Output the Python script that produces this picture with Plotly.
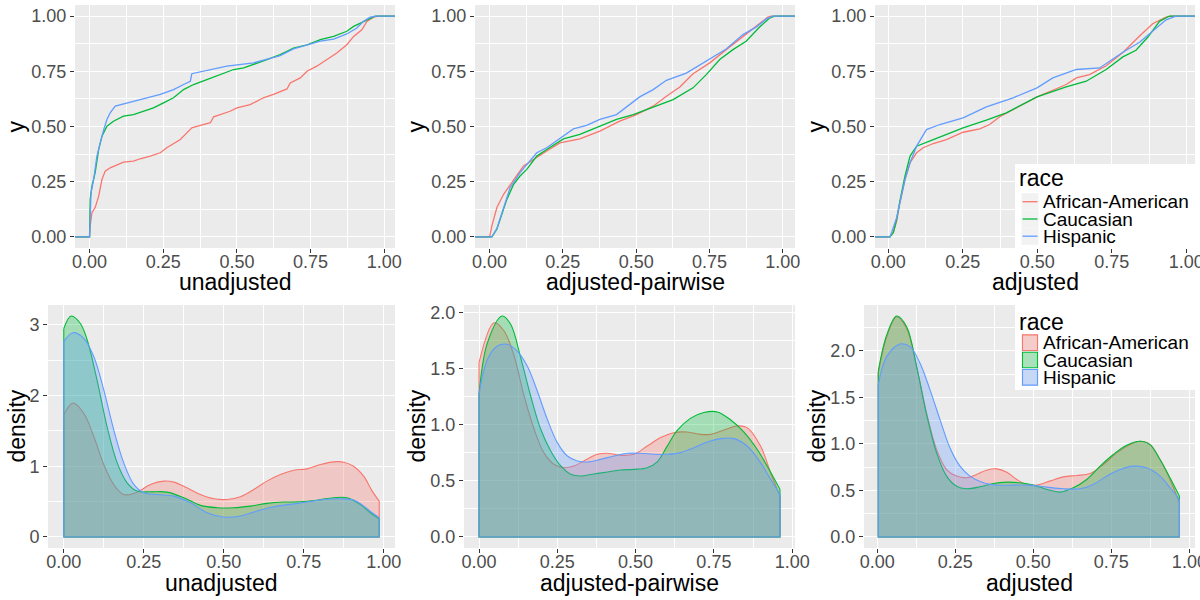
import plotly.graph_objects as go

FONT = "Liberation Sans, Arial, Helvetica, sans-serif"
W, H = 1200, 600

races = ["African-American", "Caucasian", "Hispanic"]
colors = ["#F8766D", "#00BA38", "#619CFF"]
fills = ["rgba(248,118,109,0.3)", "rgba(0,186,56,0.3)", "rgba(97,156,255,0.3)"]

# ---------------- ECDF data (top row) ----------------
# unadjusted
ecdf_unadj_aa_x = [0, 0.002, 0.008, 0.019, 0.031, 0.042, 0.053, 0.07, 0.093, 0.115, 0.149, 0.172, 0.206, 0.24, 0.262, 0.285, 0.308, 0.33, 0.347, 0.376, 0.41, 0.421, 0.443, 0.477, 0.5, 0.545, 0.59, 0.624, 0.67, 0.681, 0.715, 0.738, 0.771, 0.805, 0.839, 0.873, 0.896, 0.924, 0.941, 0.964, 0.981]
ecdf_unadj_aa_y = [0, 0.05, 0.11, 0.133, 0.185, 0.26, 0.298, 0.313, 0.328, 0.339, 0.343, 0.354, 0.366, 0.381, 0.404, 0.423, 0.441, 0.471, 0.494, 0.505, 0.517, 0.544, 0.554, 0.569, 0.584, 0.599, 0.63, 0.645, 0.67, 0.697, 0.72, 0.75, 0.773, 0.803, 0.833, 0.87, 0.908, 0.938, 0.976, 0.995, 1.0]
ecdf_unadj_ca_x = [0, 0.002, 0.008, 0.019, 0.025, 0.031, 0.042, 0.059, 0.081, 0.115, 0.149, 0.183, 0.217, 0.251, 0.285, 0.319, 0.353, 0.398, 0.443, 0.489, 0.523, 0.557, 0.602, 0.647, 0.692, 0.738, 0.783, 0.828, 0.873, 0.896, 0.93, 0.952, 0.969]
ecdf_unadj_ca_y = [0, 0.17, 0.23, 0.291, 0.351, 0.396, 0.456, 0.501, 0.524, 0.547, 0.554, 0.569, 0.584, 0.607, 0.63, 0.667, 0.69, 0.712, 0.735, 0.758, 0.765, 0.78, 0.803, 0.825, 0.855, 0.87, 0.893, 0.908, 0.931, 0.953, 0.976, 0.991, 1.0]
ecdf_unadj_hi_x = [0, 0.005, 0.014, 0.025, 0.036, 0.048, 0.059, 0.07, 0.087, 0.127, 0.195, 0.24, 0.285, 0.319, 0.342, 0.347, 0.398, 0.466, 0.557, 0.602, 0.647, 0.692, 0.738, 0.783, 0.828, 0.873, 0.907, 0.93, 0.952, 0.975]
ecdf_unadj_hi_y = [0, 0.2, 0.261, 0.366, 0.426, 0.486, 0.532, 0.562, 0.592, 0.607, 0.63, 0.645, 0.667, 0.69, 0.705, 0.739, 0.755, 0.773, 0.788, 0.803, 0.821, 0.851, 0.87, 0.886, 0.896, 0.919, 0.946, 0.976, 0.995, 1.0]

# adjusted-pairwise
ecdf_pair_aa_x = [0, 0.008, 0.025, 0.048, 0.07, 0.093, 0.116, 0.15, 0.195, 0.24, 0.308, 0.376, 0.444, 0.501, 0.558, 0.603, 0.649, 0.694, 0.751, 0.807, 0.864, 0.921, 0.949, 0.96]
ecdf_pair_aa_y = [0, 0.05, 0.133, 0.193, 0.238, 0.279, 0.321, 0.351, 0.389, 0.426, 0.444, 0.479, 0.524, 0.554, 0.592, 0.637, 0.679, 0.739, 0.788, 0.848, 0.908, 0.968, 0.995, 1.0]
ecdf_pair_ca_x = [0, 0.008, 0.025, 0.036, 0.059, 0.082, 0.104, 0.127, 0.161, 0.195, 0.252, 0.308, 0.376, 0.433, 0.49, 0.558, 0.626, 0.694, 0.739, 0.785, 0.83, 0.875, 0.921, 0.955, 0.972]
ecdf_pair_ca_y = [0, 0, 0.035, 0.08, 0.17, 0.238, 0.276, 0.306, 0.366, 0.396, 0.444, 0.464, 0.502, 0.532, 0.554, 0.589, 0.622, 0.675, 0.735, 0.803, 0.848, 0.886, 0.95, 0.991, 1.0]
ecdf_pair_hi_x = [0, 0.008, 0.025, 0.048, 0.07, 0.104, 0.133, 0.161, 0.195, 0.252, 0.286, 0.331, 0.376, 0.433, 0.467, 0.512, 0.558, 0.603, 0.671, 0.717, 0.762, 0.807, 0.864, 0.909, 0.943, 0.966]
ecdf_pair_hi_y = [0, 0, 0.038, 0.133, 0.223, 0.291, 0.336, 0.381, 0.404, 0.456, 0.489, 0.505, 0.532, 0.554, 0.589, 0.634, 0.667, 0.709, 0.742, 0.78, 0.815, 0.851, 0.916, 0.95, 0.986, 1.0]

# adjusted
ecdf_adj_aa_x = [0, 0.003, 0.017, 0.028, 0.039, 0.056, 0.073, 0.095, 0.117, 0.151, 0.195, 0.251, 0.307, 0.34, 0.374, 0.43, 0.499, 0.552, 0.597, 0.631, 0.675, 0.731, 0.787, 0.843, 0.887, 0.932, 0.949]
ecdf_adj_aa_y = [0, 0, 0.02, 0.072, 0.155, 0.26, 0.336, 0.381, 0.404, 0.423, 0.441, 0.474, 0.489, 0.509, 0.544, 0.584, 0.634, 0.664, 0.69, 0.72, 0.735, 0.775, 0.835, 0.91, 0.965, 0.995, 1.0]
ecdf_adj_ca_x = [0, 0.006, 0.017, 0.028, 0.039, 0.056, 0.073, 0.095, 0.151, 0.206, 0.251, 0.329, 0.396, 0.499, 0.597, 0.664, 0.731, 0.787, 0.831, 0.871, 0.91, 0.943]
ecdf_adj_ca_y = [0, 0, 0.02, 0.08, 0.163, 0.276, 0.366, 0.411, 0.441, 0.471, 0.494, 0.529, 0.562, 0.634, 0.679, 0.705, 0.758, 0.815, 0.845, 0.905, 0.976, 1.0]
ecdf_adj_hi_x = [0, 0.006, 0.028, 0.039, 0.056, 0.073, 0.095, 0.128, 0.173, 0.251, 0.329, 0.419, 0.499, 0.552, 0.631, 0.709, 0.742, 0.787, 0.843, 0.887, 0.932, 0.965]
ecdf_adj_hi_y = [0, 0, 0.087, 0.155, 0.26, 0.336, 0.411, 0.486, 0.509, 0.539, 0.589, 0.63, 0.675, 0.72, 0.758, 0.765, 0.795, 0.836, 0.881, 0.931, 0.983, 1.0]

# ---------------- Density data (bottom row) ----------------
dens_unadj_aa_x = [0, 0.029, 0.0625, 0.094, 0.125, 0.156, 0.1875, 0.219, 0.24, 0.271, 0.3125, 0.344, 0.385, 0.427, 0.469, 0.51, 0.552, 0.594, 0.635, 0.677, 0.719, 0.76, 0.802, 0.844, 0.875, 0.906, 0.9375, 0.964, 0.986]
dens_unadj_aa_y = [1.73, 1.895, 1.75, 1.42, 1.025, 0.743, 0.60, 0.616, 0.66, 0.743, 0.79, 0.776, 0.696, 0.60, 0.54, 0.531, 0.569, 0.672, 0.79, 0.884, 0.945, 0.964, 1.025, 1.063, 1.058, 1.0, 0.86, 0.649, 0.508]
dens_unadj_ca_x = [0, 0.023, 0.052, 0.073, 0.104, 0.135, 0.167, 0.198, 0.229, 0.271, 0.323, 0.375, 0.427, 0.479, 0.531, 0.583, 0.635, 0.6875, 0.74, 0.79, 0.844, 0.885, 0.927, 0.958, 0.986]
dens_unadj_ca_y = [2.95, 3.126, 3.02, 2.79, 2.22, 1.566, 1.048, 0.766, 0.649, 0.639, 0.635, 0.555, 0.447, 0.414, 0.414, 0.437, 0.475, 0.494, 0.498, 0.52, 0.555, 0.555, 0.46, 0.343, 0.259]
dens_unadj_hi_x = [0, 0.029, 0.0625, 0.094, 0.125, 0.156, 0.1875, 0.219, 0.25, 0.292, 0.344, 0.396, 0.448, 0.5, 0.552, 0.604, 0.656, 0.708, 0.76, 0.8125, 0.865, 0.906, 0.9375, 0.964, 0.986]
dens_unadj_hi_y = [2.765, 2.89, 2.81, 2.55, 2.08, 1.52, 1.048, 0.743, 0.625, 0.60, 0.578, 0.484, 0.343, 0.282, 0.296, 0.367, 0.428, 0.461, 0.494, 0.531, 0.54, 0.522, 0.437, 0.343, 0.273]

dens_pair_aa_x = [0, 0.048, 0.08, 0.112, 0.144, 0.176, 0.207, 0.239, 0.271, 0.303, 0.335, 0.378, 0.41, 0.452, 0.495, 0.537, 0.58, 0.622, 0.665, 0.707, 0.739, 0.782, 0.824, 0.856, 0.899, 0.931, 0.961]
dens_pair_aa_y = [1.554, 1.91, 1.837, 1.614, 1.257, 0.96, 0.752, 0.648, 0.618, 0.633, 0.678, 0.737, 0.746, 0.728, 0.737, 0.811, 0.886, 0.93, 0.936, 0.915, 0.915, 0.954, 0.99, 0.975, 0.811, 0.574, 0.366]
dens_pair_ca_x = [0, 0.027, 0.074, 0.101, 0.133, 0.165, 0.197, 0.229, 0.261, 0.293, 0.324, 0.367, 0.41, 0.452, 0.495, 0.537, 0.569, 0.601, 0.633, 0.676, 0.718, 0.761, 0.803, 0.846, 0.888, 0.92, 0.961]
dens_pair_ca_y = [1.272, 1.733, 1.97, 1.896, 1.599, 1.257, 0.96, 0.767, 0.633, 0.559, 0.544, 0.562, 0.58, 0.597, 0.603, 0.618, 0.67, 0.81, 0.95, 1.06, 1.11, 1.115, 1.045, 0.935, 0.782, 0.633, 0.425]
dens_pair_hi_x = [0, 0.027, 0.0585, 0.09, 0.122, 0.154, 0.186, 0.218, 0.25, 0.282, 0.314, 0.346, 0.388, 0.431, 0.473, 0.516, 0.559, 0.601, 0.644, 0.686, 0.729, 0.771, 0.814, 0.856, 0.899, 0.931, 0.961]
dens_pair_hi_y = [1.272, 1.584, 1.703, 1.718, 1.658, 1.524, 1.302, 1.049, 0.841, 0.722, 0.678, 0.669, 0.692, 0.722, 0.746, 0.746, 0.737, 0.737, 0.752, 0.796, 0.847, 0.877, 0.877, 0.811, 0.663, 0.514, 0.38]

dens_adj_aa_x = [0.003, 0.03, 0.062, 0.094, 0.126, 0.158, 0.19, 0.222, 0.254, 0.286, 0.318, 0.35, 0.382, 0.415, 0.447, 0.479, 0.511, 0.553, 0.596, 0.639, 0.682, 0.724, 0.767, 0.81, 0.842, 0.874, 0.906, 0.938, 0.968]
dens_adj_aa_y = [1.76, 2.15, 2.368, 2.243, 1.832, 1.332, 0.939, 0.725, 0.654, 0.636, 0.671, 0.718, 0.732, 0.696, 0.618, 0.564, 0.557, 0.6, 0.646, 0.661, 0.682, 0.779, 0.904, 0.993, 1.029, 0.993, 0.832, 0.618, 0.368]
dens_adj_ca_x = [0.003, 0.03, 0.062, 0.094, 0.126, 0.158, 0.19, 0.222, 0.254, 0.286, 0.329, 0.372, 0.415, 0.457, 0.5, 0.543, 0.585, 0.628, 0.671, 0.714, 0.756, 0.799, 0.842, 0.874, 0.906, 0.938, 0.968]
dens_adj_ca_y = [1.779, 2.17, 2.375, 2.261, 1.832, 1.314, 0.904, 0.654, 0.546, 0.518, 0.539, 0.575, 0.589, 0.582, 0.557, 0.511, 0.482, 0.529, 0.618, 0.761, 0.886, 0.986, 1.029, 0.993, 0.832, 0.636, 0.439]
dens_adj_hi_x = [0.003, 0.03, 0.073, 0.105, 0.137, 0.169, 0.201, 0.233, 0.265, 0.297, 0.34, 0.382, 0.436, 0.489, 0.543, 0.596, 0.65, 0.692, 0.735, 0.778, 0.821, 0.863, 0.906, 0.938, 0.968]
dens_adj_hi_y = [1.636, 1.939, 2.075, 2.046, 1.868, 1.582, 1.261, 0.957, 0.761, 0.654, 0.582, 0.557, 0.557, 0.557, 0.536, 0.518, 0.518, 0.564, 0.654, 0.725, 0.761, 0.743, 0.654, 0.529, 0.404]

# ---------------- tick labels ----------------
x_ticks = [0, 0.25, 0.5, 0.75, 1.0]
x_ticktext = ["0.00", "0.25", "0.50", "0.75", "1.00"]
x_minor = [0.125, 0.375, 0.625, 0.875]
ecdf_yticks = [0, 0.25, 0.5, 0.75, 1.0]
ecdf_yticktext = ["0.00", "0.25", "0.50", "0.75", "1.00"]
ecdf_yminor = [0.125, 0.375, 0.625, 0.875]
dens1_yticks = [0, 1, 2, 3]
dens1_yticktext = ["0", "1", "2", "3"]
dens1_yminor = [0.5, 1.5, 2.5]
dens2_yticks = [0, 0.5, 1.0, 1.5, 2.0]
dens2_yticktext = ["0.0", "0.5", "1.0", "1.5", "2.0"]
dens2_yminor = [0.25, 0.75, 1.25, 1.75, 2.25]

titles_x = ["unadjusted", "adjusted-pairwise", "adjusted"]

# ---------------- layout geometry (pixels) ----------------
panels = [
    dict(box=(75, 395, 5, 248), xr=[-0.0494, 1.0365], yr=[-0.05, 1.05], yt=(ecdf_yticks, ecdf_yticktext, ecdf_yminor)),
    dict(box=(475, 795, 5, 248), xr=[-0.0496, 1.0416], yr=[-0.05, 1.05], yt=(ecdf_yticks, ecdf_yticktext, ecdf_yminor)),
    dict(box=(875, 1195, 5, 248), xr=[-0.0446, 1.029], yr=[-0.05, 1.05], yt=(ecdf_yticks, ecdf_yticktext, ecdf_yminor)),
    dict(box=(48, 395, 305, 548), xr=[-0.0493, 1.0353], yr=[-0.156, 3.282], yt=(dens1_yticks, dens1_yticktext, dens1_yminor)),
    dict(box=(464, 795, 305, 548), xr=[-0.048, 1.009], yr=[-0.0985, 2.0685], yt=(dens2_yticks, dens2_yticktext, dens2_yminor)),
    dict(box=(864, 1195, 305, 548), xr=[-0.0426, 1.018], yr=[-0.119, 2.494], yt=(dens2_yticks, dens2_yticktext, dens2_yminor)),
]

ecdf_sets = [
    [(ecdf_unadj_aa_x, ecdf_unadj_aa_y), (ecdf_unadj_ca_x, ecdf_unadj_ca_y), (ecdf_unadj_hi_x, ecdf_unadj_hi_y)],
    [(ecdf_pair_aa_x, ecdf_pair_aa_y), (ecdf_pair_ca_x, ecdf_pair_ca_y), (ecdf_pair_hi_x, ecdf_pair_hi_y)],
    [(ecdf_adj_aa_x, ecdf_adj_aa_y), (ecdf_adj_ca_x, ecdf_adj_ca_y), (ecdf_adj_hi_x, ecdf_adj_hi_y)],
]
dens_sets = [
    [(dens_unadj_aa_x, dens_unadj_aa_y), (dens_unadj_ca_x, dens_unadj_ca_y), (dens_unadj_hi_x, dens_unadj_hi_y)],
    [(dens_pair_aa_x, dens_pair_aa_y), (dens_pair_ca_x, dens_pair_ca_y), (dens_pair_hi_x, dens_pair_hi_y)],
    [(dens_adj_aa_x, dens_adj_aa_y), (dens_adj_ca_x, dens_adj_ca_y), (dens_adj_hi_x, dens_adj_hi_y)],
]


def fx(p):
    return p / W


def fy(p):
    return 1 - p / H


fig = go.Figure()

# ECDF traces (tails extend to the panel edges like -Inf/Inf in ggplot)
for i, sets in enumerate(ecdf_sets):
    n = i + 1
    xr = panels[i]["xr"]
    for k, (xs, ys) in enumerate(sets):
        assert len(xs) == len(ys)
        fig.add_trace(go.Scatter(
            x=[xr[0] - 0.1] + list(xs) + [xr[1] + 0.1],
            y=[0] + list(ys) + [1],
            mode="lines", line=dict(color=colors[k], width=1.3),
            xaxis=f"x{n}" if n > 1 else "x", yaxis=f"y{n}" if n > 1 else "y",
            showlegend=False, hoverinfo="skip"))

# density traces
for i, sets in enumerate(dens_sets):
    n = i + 4
    for k, (xs, ys) in enumerate(sets):
        assert len(xs) == len(ys)
        fig.add_trace(go.Scatter(
            x=xs, y=ys, mode="lines",
            line=dict(color=colors[k], width=1.1, shape="spline", smoothing=1.0),
            fill="tozeroy", fillcolor=fills[k],
            xaxis=f"x{n}", yaxis=f"y{n}", showlegend=False, hoverinfo="skip"))
        fig.add_trace(go.Scatter(
            x=[xs[0], xs[0], xs[-1], xs[-1]], y=[ys[0], 0, 0, ys[-1]], mode="lines",
            line=dict(color=colors[k], width=1.1),
            xaxis=f"x{n}", yaxis=f"y{n}", showlegend=False, hoverinfo="skip"))

layout = dict(
    width=W, height=H, margin=dict(l=0, r=0, t=0, b=0, autoexpand=False),
    paper_bgcolor="white", plot_bgcolor="#EBEBEB",
    font=dict(family=FONT, color="black"),
    showlegend=False,
)

tickfont = dict(family=FONT, size=18, color="#4D4D4D")
for i, p in enumerate(panels):
    n = i + 1
    l, r, t, b = p["box"]
    xa = "xaxis" if n == 1 else f"xaxis{n}"
    ya = "yaxis" if n == 1 else f"yaxis{n}"
    yt, ytt, ym = p["yt"]
    common = dict(
        showgrid=True, gridcolor="white", gridwidth=1.3,
        zeroline=False, showline=False, automargin=False,
        ticks="outside", ticklen=4, tickwidth=1, tickcolor="#333333",
        tickfont=tickfont, fixedrange=True, ticklabeloverflow="allow",
    )
    layout[xa] = dict(
        domain=[fx(l), fx(r)], range=p["xr"], anchor=f"y{n}" if n > 1 else "y",
        tickmode="array", tickvals=x_ticks, ticktext=x_ticktext, ticklabelstandoff=-7,
        minor=dict(tickmode="array", tickvals=x_minor, showgrid=True, gridcolor="white", gridwidth=0.6, ticks=""),
        **common)
    layout[ya] = dict(
        domain=[fy(b), fy(t)], range=p["yr"], anchor=f"x{n}" if n > 1 else "x",
        tickmode="array", tickvals=yt, ticktext=ytt,
        minor=dict(tickmode="array", tickvals=ym, showgrid=True, gridcolor="white", gridwidth=0.6, ticks=""),
        **common)

fig.update_layout(**layout)

annotations = []
shapes = []
title_font = dict(family=FONT, size=23, color="black")
# axis titles
for i, p in enumerate(panels):
    l, r, t, b = p["box"]
    xt = titles_x[i % 3]
    ty = 282 if i < 3 else 583
    annotations.append(dict(text=xt, x=fx((l + r) / 2), y=fy(ty), xref="paper", yref="paper",
                            xanchor="center", yanchor="middle", showarrow=False, font=title_font))
    yt_text = "y" if i < 3 else "density"
    col = i % 3
    annotations.append(dict(text=yt_text, x=fx(16 + 400 * col), y=fy((t + b) / 2), xref="paper", yref="paper",
                            xanchor="center", yanchor="middle", showarrow=False, font=title_font, textangle=-90))


def add_legend(top, bottom, title_y, centers, kind):
    shapes.append(dict(type="rect", xref="paper", yref="paper", x0=fx(1015), x1=fx(1200),
                       y0=fy(bottom), y1=fy(top), fillcolor="white", line=dict(width=0), layer="above"))
    annotations.append(dict(text="race", x=fx(1017), y=fy(title_y), xref="paper", yref="paper",
                            xanchor="left", yanchor="middle", showarrow=False, font=title_font))
    for k, c in enumerate(centers):
        shapes.append(dict(type="rect", xref="paper", yref="paper", x0=fx(1021.5), x1=fx(1038.5),
                           y0=fy(c + 8.6), y1=fy(c - 8.6), fillcolor="#F2F2F2", line=dict(width=0), layer="above"))
        if kind == "line":
            shapes.append(dict(type="line", xref="paper", yref="paper", x0=fx(1022.5), x1=fx(1037.5),
                               y0=fy(c), y1=fy(c), line=dict(color=colors[k], width=1.3), layer="above"))
        else:
            shapes.append(dict(type="rect", xref="paper", yref="paper", x0=fx(1022.5), x1=fx(1037.5),
                               y0=fy(c + 7.8), y1=fy(c - 7.8), fillcolor=fills[k],
                               line=dict(color=colors[k], width=1.1), layer="above"))
        annotations.append(dict(text=races[k], x=fx(1040.5), y=fy(c), xref="paper", yref="paper",
                                xanchor="left", yanchor="middle", showarrow=False,
                                font=dict(family=FONT, size=19, color="black")))


add_legend(164, 248, 178, [201.7, 219.0, 236.2], "line")
add_legend(303, 390, 321.5, [342.7, 360.0, 377.3], "fill")

fig.update_layout(annotations=annotations, shapes=shapes)
fig.write_html("out.html")
